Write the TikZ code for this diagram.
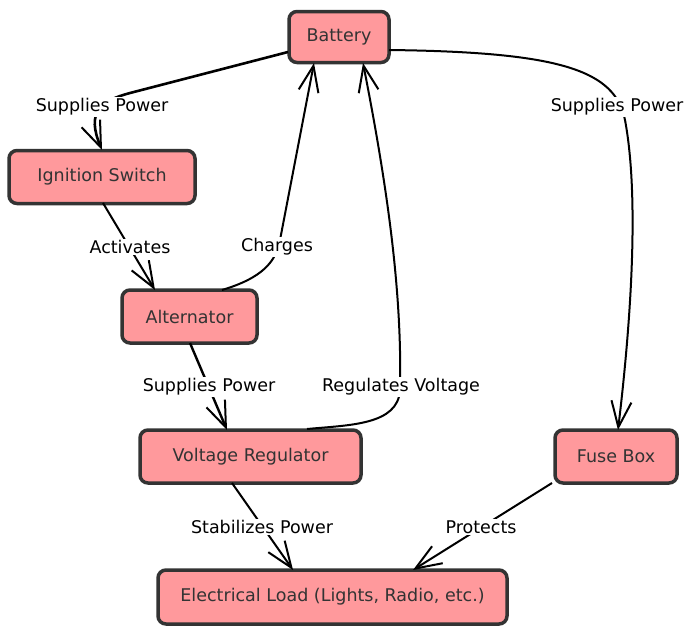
\documentclass[tikz,border=0pt]{standalone}
\usepackage{fontspec}
\setmainfont{DejaVu Sans}
\usetikzlibrary{arrows.meta}
\definecolor{nodefill}{HTML}{FF999C}
\definecolor{nodeline}{HTML}{333333}
\tikzset{
  box/.style={draw=nodeline, fill=nodefill, line width=3.5pt, rounded corners=8pt,
    inner sep=0pt, text=nodeline, font=\fontsize{17.5}{21}\selectfont},
  edge/.style={draw=black, line width=2pt,
    -{Straight Barb[length=26pt,width=20pt,line width=2pt]}},
  elabel/.style={fill=white, inner sep=1.5pt, text=black, font=\fontsize{17.5}{21}\selectfont}
}
\begin{document}
\begin{tikzpicture}[x=1pt,y=-1pt]
\useasboundingbox (0,0) rectangle (698,633);
% nodes
\node[box, minimum width=100pt, minimum height=51pt] (bat) at (339,37) {Battery};
\node[box, minimum width=186pt, minimum height=53pt] (ign) at (102,177) {Ignition Switch};
\node[box, minimum width=135pt, minimum height=53pt] (alt) at (189.5,316.5) {Alternator};
\node[box, minimum width=221pt, minimum height=53pt] (vr) at (250.5,456.5) {Voltage Regulator};
\node[box, minimum width=122pt, minimum height=53pt] (fuse) at (616,456.5) {Fuse Box};
\node[box, minimum width=349pt, minimum height=54pt] (load) at (332.5,597) {Electrical Load (Lights, Radio, etc.)};
% connector points
\coordinate (b1) at (288,52);
\coordinate (b2) at (389,50);
\coordinate (b3) at (314,63);
\coordinate (b4) at (363,63);
\coordinate (i1) at (102,150);
\coordinate (i2) at (103,203);
\coordinate (a1) at (155,290);
\coordinate (a2) at (222,290);
\coordinate (a3) at (190,343);
\coordinate (v1) at (227,430);
\coordinate (v2) at (307,429);
\coordinate (v3) at (232,483);
\coordinate (f1) at (618,430);
\coordinate (f2) at (552,483);
\coordinate (l1) at (293,570);
\coordinate (l2) at (413,570);
% edges
\draw[edge, line width=2.6pt] (b1) -- (130,93) .. controls (100,101) and (86,112) .. (i1);
\draw[edge] (b2) .. controls (560,52) and (615,70) .. (625,120) .. controls (640,200) and (630,330) .. (f1);
\draw[edge] (i2) -- (a1);
\draw[edge] (a2) .. controls (262,278) and (276,262) .. (280,240) -- (b3);
\draw[edge, line width=2.4pt] (a3) -- (v1);
\draw[edge] (v2) .. controls (350,425) and (398,425) .. (400,390) .. controls (402,300) and (390,200) .. (b4);
\draw[edge] (v3) -- (l1);
\draw[edge] (f2) -- (l2);
% labels
\node[elabel] (t1) at (102,107) {Supplies Power};
\node[elabel] (t2) at (617,107) {Supplies Power};
\node[elabel] (t3) at (130,247) {Activates};
\node[elabel] (t4) at (277,247) {Charges};
\node[elabel] (t5) at (209,387) {Supplies Power};
\node[elabel] (t6) at (401,387) {Regulates Voltage};
\node[elabel] (t7) at (262,527) {Stabilizes Power};
\node[elabel] (t8) at (481,527) {Protects};
\end{tikzpicture}
\end{document}
